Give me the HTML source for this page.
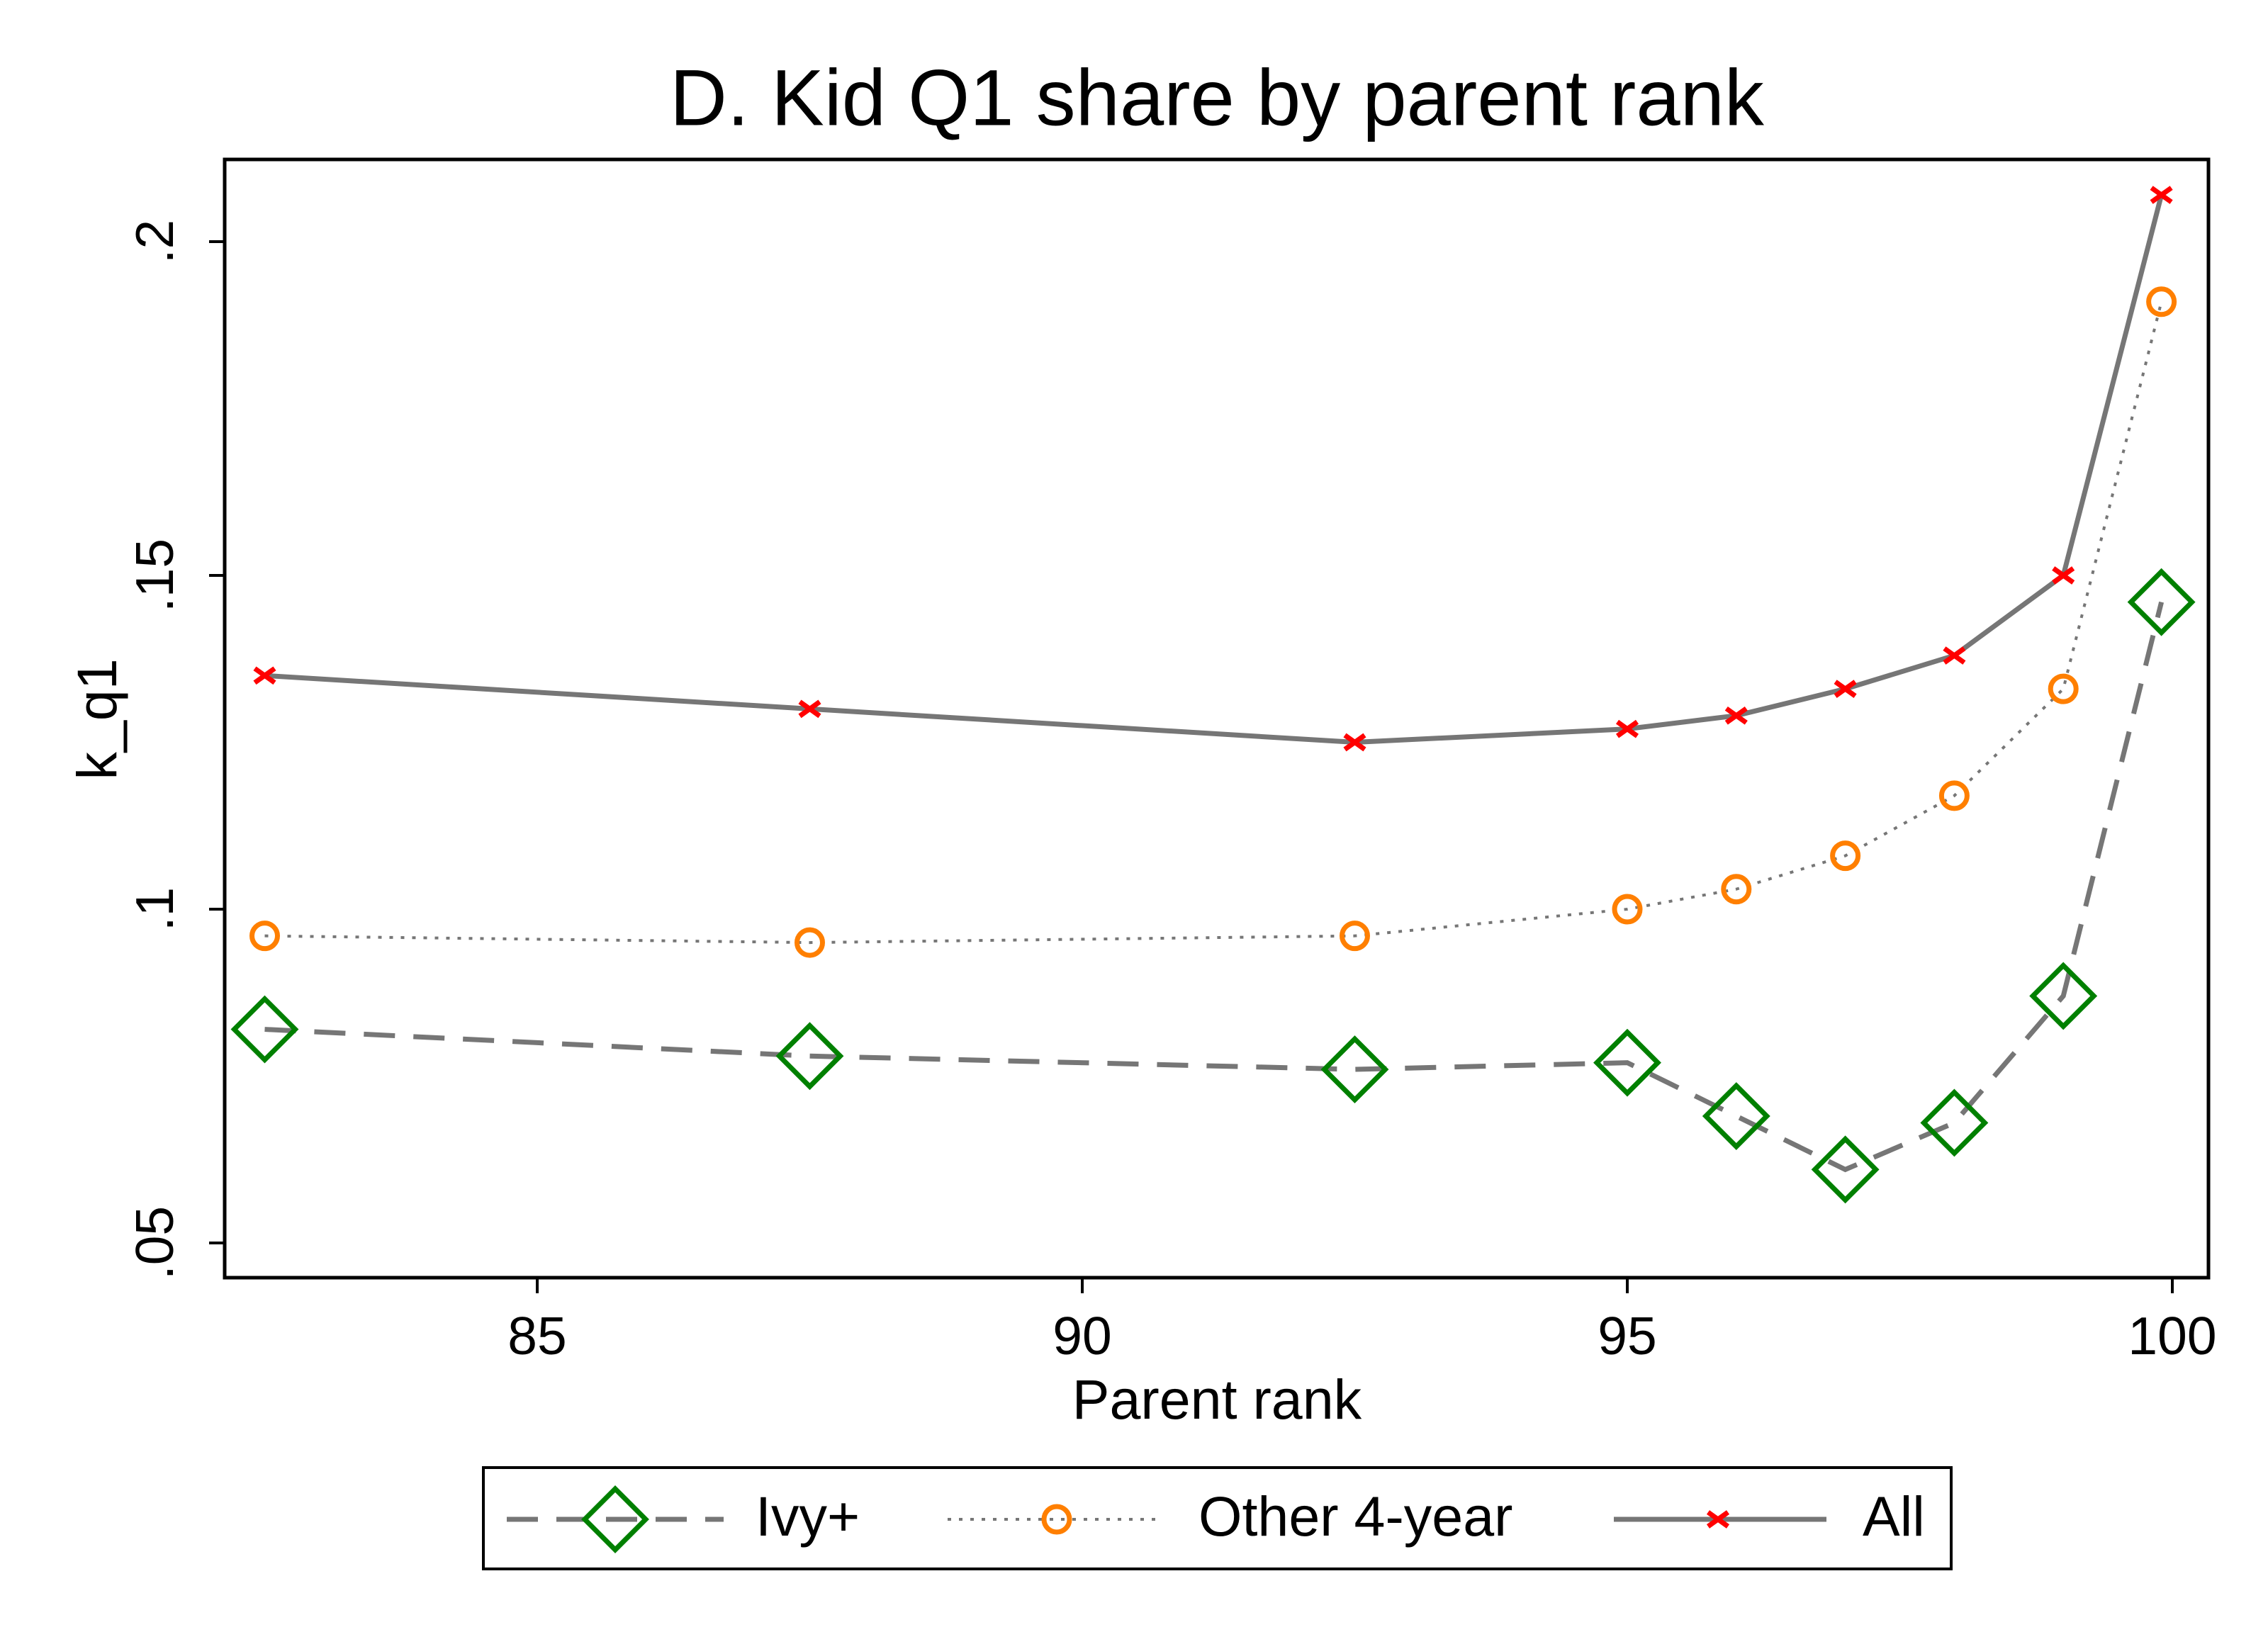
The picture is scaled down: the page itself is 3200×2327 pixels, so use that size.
<!DOCTYPE html>
<html><head><meta charset="utf-8"><style>
html,body{margin:0;padding:0;background:#fff;}
svg{display:block;font-family:"Liberation Sans",Arial,sans-serif;}
</style></head><body>
<svg id="chart" width="3200" height="2327" viewBox="0 0 3200 2327">
<rect width="3200" height="2327" fill="#fff"/>
<text x="1717" y="147" font-size="112" text-anchor="middle" dominant-baseline="middle">D. Kid Q1 share by parent rank</text>
<g id="plot"></g>
<rect x="317" y="225" width="2799" height="1578" fill="none" stroke="#000" stroke-width="5"/>
<text x="1717" y="1981" font-size="79" text-anchor="middle" dominant-baseline="middle">Parent rank</text>
<text transform="translate(143,1015) rotate(-90)" font-size="79" text-anchor="middle" dominant-baseline="middle">k_q1</text>
<g>
<rect x="682" y="2071" width="2071" height="143" fill="#fff" stroke="#000" stroke-width="4"/>
<g>
<line x1="715" y1="2144" x2="1021" y2="2144" stroke="#767676" stroke-width="7" stroke-dasharray="44 26"/>
<polygon points="868,2101 911,2144 868,2187 825,2144" fill="none" stroke="#008000" stroke-width="7"/>
<text x="1066" y="2146" font-size="79" dominant-baseline="middle">Ivy+</text></g>
<g>
<line x1="1337" y1="2144" x2="1634" y2="2144" stroke="#767676" stroke-width="4" stroke-dasharray="5 11"/>
<circle cx="1491" cy="2144" r="18" fill="none" stroke="#ff7f00" stroke-width="7"/>
<text x="1691" y="2146" font-size="79" dominant-baseline="middle">Other 4-year</text></g>
<g>
<line x1="2277" y1="2144" x2="2577" y2="2144" stroke="#767676" stroke-width="7"/>
<path d="M2410,2134 L2438,2154 M2410,2154 L2438,2134" stroke="#ff0000" stroke-width="7"/>
<text x="2628" y="2146" font-size="79" dominant-baseline="middle">All</text></g>
</g>
</svg>
<script>
const ranks = [82.5, 87.5, 92.5, 95, 96, 97, 98, 99, 99.9];
const ivyValues = [0.082, 0.078, 0.076, 0.077, 0.069, 0.061, 0.068, 0.087, 0.146];
const otherValues = [0.096, 0.095, 0.096, 0.100, 0.103, 0.108, 0.117, 0.133, 0.191];
const allValues = [0.135, 0.130, 0.125, 0.127, 0.129, 0.133, 0.138, 0.150, 0.207];
const xTicks = [85, 90, 95, 100];
const xTickLabels = ["85", "90", "95", "100"];
const yTicks = [0.05, 0.1, 0.15, 0.2];
const yTickLabels = [".05", ".1", ".15", ".2"];

const NS = "http://www.w3.org/2000/svg";
const sx = v => 758 + (v - 85) * (3065 - 758) / 15;
const sy = v => 1754 - (v - 0.05) * (1754 - 341) / 0.15;
const g = document.getElementById('plot');
function mk(tag, attrs, parent) {
  const e = document.createElementNS(NS, tag);
  for (const k in attrs) e.setAttribute(k, attrs[k]);
  (parent || g).appendChild(e);
  return e;
}
xTicks.forEach((t, i) => {
  const tk = mk('line', {x1: sx(t), x2: sx(t), y1: 1803, y2: 1825, stroke: '#000', 'stroke-width': 4});
  
  
  const lb = mk('text', {x: sx(t), y: 1891, 'font-size': 75, 'text-anchor': 'middle', 'dominant-baseline': 'middle'});
  lb.textContent = xTickLabels[i];
  
  
});
yTicks.forEach((t, i) => {
  const tk = mk('line', {x1: 295, x2: 317, y1: sy(t), y2: sy(t), stroke: '#000', 'stroke-width': 4});
  
  
  const lb = mk('text', {transform: `translate(224,${sy(t)}) rotate(-90)`, 'font-size': 75, 'text-anchor': 'middle', 'dominant-baseline': 'middle'});
  lb.textContent = yTickLabels[i];
  
  
});
function pts(vals) { return vals.map((v, i) => sx(ranks[i]) + ',' + sy(v)).join(' '); }
const l1 = mk('polyline', {points: pts(ivyValues), fill: 'none', stroke: '#767676', 'stroke-width': 7, 'stroke-dasharray': '44 26'});


const l2 = mk('polyline', {points: pts(otherValues), fill: 'none', stroke: '#767676', 'stroke-width': 4, 'stroke-dasharray': '5 11'});


const l3 = mk('polyline', {points: pts(allValues), fill: 'none', stroke: '#767676', 'stroke-width': 7});


ivyValues.forEach((v, i) => {
  const x = sx(ranks[i]), y = sy(v);
  const m = mk('polygon', {points: `${x},${y-43} ${x+43},${y} ${x},${y+43} ${x-43},${y}`, fill: 'none', stroke: '#008000', 'stroke-width': 7});
  
  
});
otherValues.forEach((v, i) => {
  const m = mk('circle', {cx: sx(ranks[i]), cy: sy(v), r: 18, fill: 'none', stroke: '#ff7f00', 'stroke-width': 7});
  
  
});
allValues.forEach((v, i) => {
  const x = sx(ranks[i]), y = sy(v);
  const m = mk('path', {d: `M${x-14},${y-10} L${x+14},${y+10} M${x-14},${y+10} L${x+14},${y-10}`, stroke: '#ff0000', 'stroke-width': 7});
  
  
});
</script>
</body></html>
